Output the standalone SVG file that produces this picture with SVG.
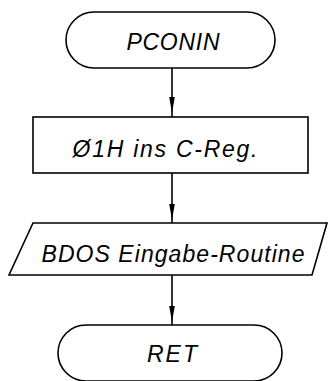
<svg xmlns="http://www.w3.org/2000/svg" width="332" height="381" viewBox="0 0 332 381">
<defs>
<marker id="ah" viewBox="0 0 16 8" refX="16" refY="4" markerWidth="16" markerHeight="8" markerUnits="userSpaceOnUse" orient="auto">
<path d="M0,1.2 L16,4 L0,6.8 Z" fill="#000"/>
</marker>
<style>
.shape{fill:#fff;stroke:#000;stroke-width:1.6}
.conn{fill:none;stroke:#000;stroke-width:1.6;marker-mid:url(#ah)}
.lbl{font-family:"Liberation Sans",Arial,sans-serif;font-style:italic;font-size:23px;fill:#000;text-anchor:middle}
</style>
</defs>
<rect width="332" height="381" fill="#fff"/>
<g id="connectors">
<path class="conn" d="M172,68 L172,113 L172,117"/>
<path class="conn" d="M172,173 L172,220 L172,223"/>
<path class="conn" d="M172,275 L172,322 L172,325"/>
</g>
<g id="start">
<rect class="shape" x="66" y="12" width="209" height="56" rx="28" ry="28"/>
<text class="lbl" x="173" y="50" textLength="93" lengthAdjust="spacing">PCONIN</text>
</g>
<g id="setc">
<rect class="shape" x="33" y="117" width="275" height="56"/>
<text class="lbl" x="165" y="157" textLength="185" lengthAdjust="spacing">Ø1H ins C-Reg.</text>
</g>
<g id="bdos">
<polygon class="shape" points="33,223 327,223 312,275 9,275"/>
<text class="lbl" x="173" y="262" textLength="263" lengthAdjust="spacing">BDOS Eingabe-Routine</text>
</g>
<g id="ret">
<rect class="shape" x="58" y="325" width="224" height="56" rx="28" ry="28"/>
<text class="lbl" x="172" y="362" textLength="50" lengthAdjust="spacing">RET</text>
</g>
</svg>
